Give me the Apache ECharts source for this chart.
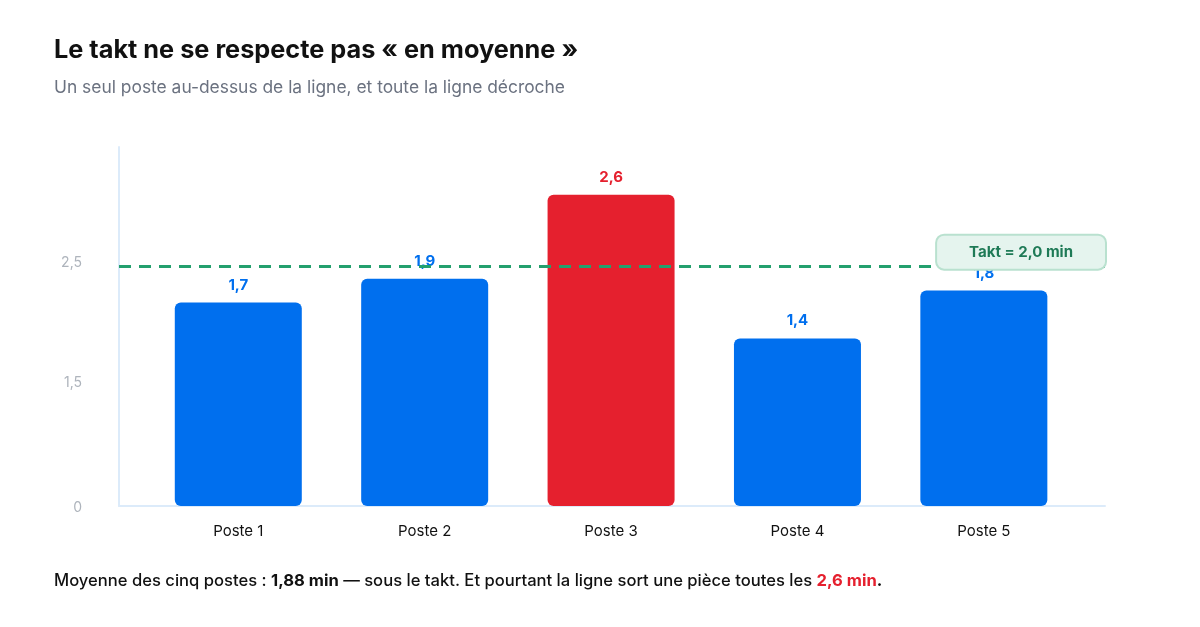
<!DOCTYPE html>
<html>
<head>
<meta charset="utf-8">
<script src="https://cdn.jsdelivr.net/npm/echarts@6/dist/echarts.min.js"></script>
<style>
  html, body { margin: 0; padding: 0; background: #ffffff; }
  #chart { width: 1200px; height: 627px; }
</style>
</head>
<body>
<div id="chart"></div>
<script>
const CATEGORIES = ['Poste 1', 'Poste 2', 'Poste 3', 'Poste 4', 'Poste 5'];
const VALUES = [1.7, 1.9, 2.6, 1.4, 1.8];
const VALUE_LABELS = ['1,7', '1,9', '2,6', '1,4', '1,8'];
const HIGHLIGHT = [false, false, true, false, false];
const TAKT = 2.0;
const TAKT_LABEL = 'Takt = 2,0 min';
const Y_TICK_VALUES = [0, 1, 2, 3];
const Y_TICK_LABELS = ['0', '1,5', '2,5', ''];

const BLUE = '#006FEE';
const RED = '#E5202E';
const FONT = 'Inter, "Noto Sans", sans-serif';

const chart = echarts.init(document.getElementById('chart'), null, { renderer: 'canvas' });

const barData = VALUES.map((v, i) => ({
  value: [i, v],
  itemStyle: { color: HIGHLIGHT[i] ? RED : BLUE },
  label: { color: HIGHLIGHT[i] ? RED : BLUE, formatter: VALUE_LABELS[i] }
}));

chart.setOption({
  animation: false,
  textStyle: { fontFamily: FONT },
  title: [
    {
      text: 'Le takt ne se respecte pas « en moyenne »',
      left: 54, top: 38, padding: 0,
      textStyle: { fontFamily: FONT, fontSize: 25.3, fontWeight: 700, color: '#111111' }
    },
    {
      text: 'Un seul poste au-dessus de la ligne, et toute la ligne décroche',
      left: 54, top: 79, padding: 0,
      textStyle: { fontFamily: FONT, fontSize: 17.4, fontWeight: 400, color: '#6B7280' }
    },
    {
      text: '{a|Moyenne des cinq postes : }{b|1,88 min}{a| — sous le takt. Et pourtant la ligne sort une pièce toutes les }{r|2,6 min}{b|.}',
      left: 54, top: 572, padding: 0,
      textStyle: {
        rich: {
          a: { fontFamily: FONT, fontSize: 16.6, color: '#111111', fontWeight: 500 },
          b: { fontFamily: FONT, fontSize: 16.6, color: '#111111', fontWeight: 700 },
          r: { fontFamily: FONT, fontSize: 16.6, color: RED, fontWeight: 700 }
        }
      }
    }
  ],
  grid: { left: 119, right: 95, top: 147, bottom: 121, containLabel: false },
  xAxis: {
    type: 'value',
    min: -0.64,
    max: 4.65,
    splitLine: { show: false },
    axisTick: { show: false },
    axisLine: { show: true, onZero: false, lineStyle: { color: '#DCEBFA', width: 2 } },
    axisLabel: {
      customValues: CATEGORIES.map((c, i) => i),
      formatter: (v) => CATEGORIES[Math.round(v)],
      color: '#111111', fontSize: 15, fontFamily: FONT, margin: 18
    }
  },
  yAxis: {
    type: 'value',
    min: 0, max: 3, interval: 1,
    splitLine: { show: false },
    axisTick: { show: false },
    axisLine: { show: true, onZero: false, lineStyle: { color: '#DCEBFA', width: 2 } },
    axisLabel: {
      formatter: (v) => {
        const s = Y_TICK_LABELS[Y_TICK_VALUES.indexOf(v)] ?? '';
        return v === 0 ? '{z|' + s + '}' : '{u|' + s + '}';
      },
      rich: {
        z: { color: '#AEB4BC', fontSize: 14, fontFamily: FONT, padding: [4, 0, 0, 0] },
        u: { color: '#AEB4BC', fontSize: 14, fontFamily: FONT, padding: [0, 0, 8, 0] }
      },
      color: '#AEB4BC', fontSize: 14, fontFamily: FONT, margin: 37
    }
  },
  series: [
    {
      type: 'bar',
      z: 2,
      barWidth: 127,
      data: barData,
      itemStyle: { borderRadius: 6 },
      label: {
        show: true, position: 'top', distance: 10,
        fontSize: 15, fontWeight: 700, fontFamily: FONT
      }
    },
    {
      type: 'line',
      z: 10,
      data: [],
      markLine: {
        silent: true,
        symbol: 'none',
        lineStyle: { color: '#23A06E', type: [12, 8], width: 3 },
        label: {
          show: true,
          position: 'insideEndTop',
          distance: [0, -2],
          formatter: TAKT_LABEL,
          color: '#1E7A56',
          fontSize: 15, fontWeight: 700, fontFamily: FONT,
          backgroundColor: '#E5F4EE',
          borderColor: '#B9E1CF', borderWidth: 2, borderRadius: 7,
          padding: [9, 32, 9, 32]
        },
        data: [{ yAxis: TAKT }]
      }
    }
  ]
});
</script>
</body>
</html>
